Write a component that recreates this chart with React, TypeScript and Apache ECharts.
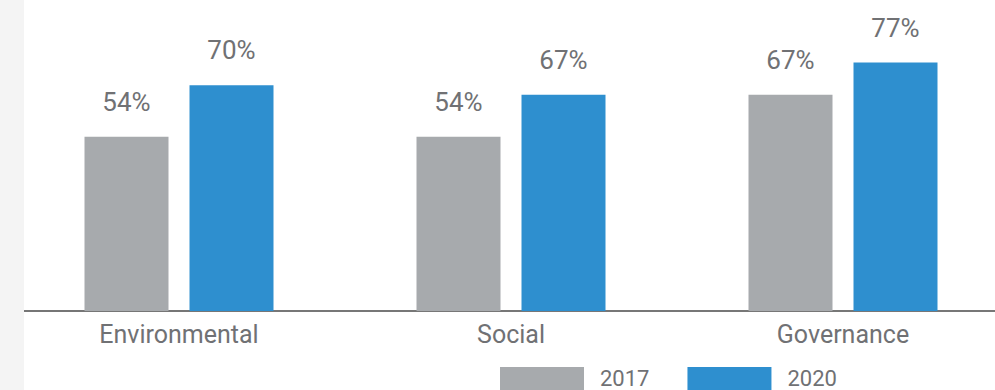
import React, { useEffect, useRef } from "react";
import * as echarts from "echarts";

const categories = ["Environmental", "Social", "Governance"];
const series2017 = [54, 54, 67];
const series2020 = [70, 67, 77];
const seriesNames = ["2017", "2020"];

export default function App() {
  const ref = useRef<HTMLDivElement>(null);
  useEffect(() => {
    if (!ref.current) return;
    const chart = echarts.init(ref.current, undefined, { renderer: "svg" });
    const labelStyle = {
      show: true,
      position: "top" as const,
      distance: 22,
      color: "#707174",
      fontSize: 26,
      fontFamily: "Roboto",
      formatter: (p: any) => p.value + "%",
    };
    chart.setOption({
      animation: false,
      backgroundColor: "#ffffff",
      grid: { left: 13, right: 0, top: 0, bottom: 79, containLabel: false },
      legend: {
        left: 500,
        top: 367,
        padding: 0,
        itemWidth: 84,
        itemHeight: 23,
        itemGap: 38,
        icon: "rect",
        textStyle: { color: "#707174", fontSize: 22, fontFamily: "Roboto", lineHeight: 22, padding: [0, 0, 0, 11] },
        data: seriesNames,
      },
      xAxis: {
        type: "category",
        data: categories,
        axisLine: { lineStyle: { color: "#4a4a4a", width: 1.5 } },
        axisTick: { show: false },
        axisLabel: { color: "#707174", fontSize: 25, fontFamily: "Roboto", margin: 11 },
      },
      yAxis: {
        type: "value",
        min: 0,
        max: 96.4,
        show: false,
        splitLine: { show: false },
      },
      series: [
        {
          name: seriesNames[0],
          type: "bar",
          data: series2017,
          barWidth: 84,
          barGap: "25%",
          itemStyle: { color: "#a7aaad" },
          label: labelStyle,
        },
        {
          name: seriesNames[1],
          type: "bar",
          data: series2020,
          barWidth: 84,
          barGap: "25%",
          itemStyle: { color: "#2e8fcf" },
          label: labelStyle,
        },
      ],
      graphic: [
        {
          type: "rect",
          left: 0,
          top: 0,
          z: 100,
          shape: { x: 0, y: 0, width: 24, height: 390 },
          style: { fill: "#f4f4f4" },
        },
      ],
    });
    return () => chart.dispose();
  }, []);
  return (
    <div
      ref={ref}
      style={{ position: "fixed", left: 0, top: 0, width: 1009, height: 390 }}
    />
  );
}
